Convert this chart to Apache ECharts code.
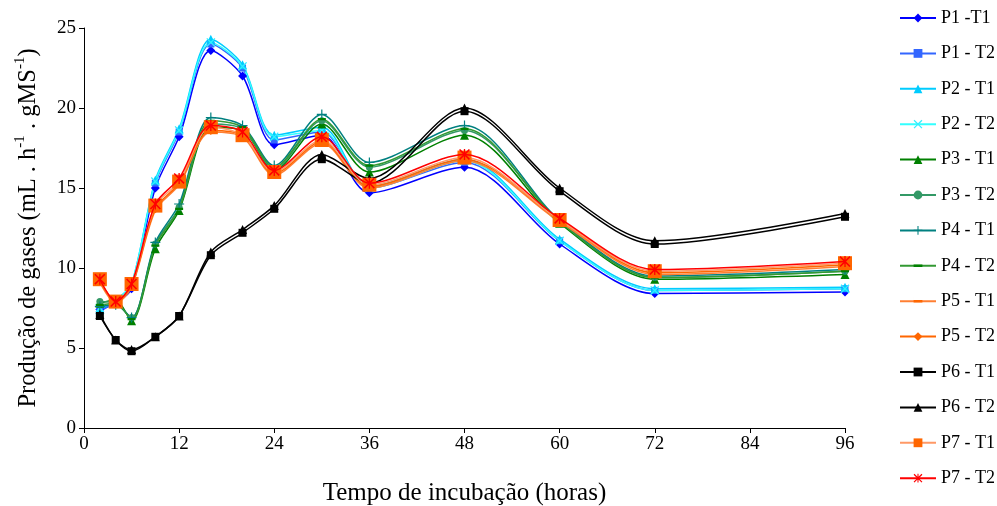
<!DOCTYPE html>
<html><head><meta charset="utf-8">
<script src="https://cdn.jsdelivr.net/npm/echarts@6/dist/echarts.min.js"></script>
<style>html,body{margin:0;padding:0;background:#fff}#c{width:997px;height:506px}</style>
</head><body><div id="c"></div>
<script>
const hours = [2,4,6,9,12,16,20,24,30,36,48,60,72,96];
const xTicks = [0,12,24,36,48,60,72,84,96];
const yTicks = [0,5,10,15,20,25];
const names = ['P1 -T1','P1 - T2','P2 - T1','P2 - T2','P3 - T1','P3 - T2','P4 - T1','P4 - T2','P5 - T1','P5 - T2','P6 - T1','P6 - T2','P7 - T1','P7 - T2'];
const p1t1 = [7.4,7.8,8.7,15.0,18.2,23.6,22.0,17.7,18.3,14.7,16.3,11.5,8.4,8.5];
const p1t2 = [7.3,7.9,8.9,15.3,18.5,24.0,22.5,18.0,18.5,15.0,16.6,11.7,8.6,8.7];
const p2t1 = [7.4,8.0,9.0,15.5,18.7,24.3,22.7,18.3,18.8,15.1,16.8,11.8,8.7,8.8];
const p2t2 = [7.5,8.0,9.0,15.4,18.6,24.1,22.6,18.2,18.6,15.0,16.7,11.7,8.6,8.7];
const p3t1 = [7.8,8.0,6.7,11.2,13.6,18.8,18.6,16.1,19.0,16.0,18.3,12.8,9.3,9.6];
const p3t2 = [7.9,7.8,6.9,11.5,13.8,19.0,18.7,16.2,19.2,16.3,18.6,12.9,9.4,9.8];
const p4t1 = [7.6,7.7,6.9,11.6,14.0,19.4,18.9,16.4,19.6,16.6,18.9,13.0,9.5,9.9];
const p4t2 = [7.7,7.8,6.8,11.4,13.7,19.2,18.8,16.3,19.3,16.4,18.7,12.9,9.4,9.8];
const p5t1 = [9.1,7.8,8.8,13.6,15.2,18.5,18.2,15.8,17.8,15.0,16.7,12.9,9.6,10.1];
const p5t2 = [9.2,7.9,8.9,13.7,15.3,18.6,18.3,15.9,17.9,15.1,16.8,13.0,9.7,10.2];
const p6t1 = [7.0,5.5,4.8,5.7,7.0,10.8,12.2,13.7,16.8,15.3,19.8,14.8,11.5,13.2];
const p6t2 = [7.1,5.5,4.9,5.7,7.0,11.0,12.4,13.9,17.1,15.6,20.0,15.0,11.7,13.4];
const p7t1 = [9.3,7.9,9.0,13.9,15.4,18.8,18.3,16.0,18.0,15.2,16.9,13.0,9.8,10.3];
const p7t2 = [9.3,7.9,9.0,14.0,15.6,18.9,18.5,16.1,18.2,15.3,17.1,13.1,9.9,10.4];
const seriesValues = [p1t1,p1t2,p2t1,p2t2,p3t1,p3t2,p4t1,p4t2,p5t1,p5t2,p6t1,p6t2,p7t1,p7t2];

const xSym = 'path://M1,0L5,4L9,0L10,1L6,5L10,9L9,10L5,6L1,10L0,9L4,5L0,1Z';
const plusSym = 'path://M4.4,0H5.6V4.4H10V5.6H5.6V10H4.4V5.6H0V4.4H4.4Z';
const starSym = 'path://M1,0L5,4L9,0L10,1L6,5L10,9L9,10L5,6L1,10L0,9L4,5L0,1Z M4.4,0H5.6V10H4.4Z';
const dashSym = 'path://M0,0H0.01V10H0Z M0,3.6H10V6.4H0Z';
const styles = [
  {line:'#0000FF', mark:'#0000FF', sym:'diamond', size:9},
  {line:'#3366FF', mark:'#3366FF', sym:'rect', size:7},
  {line:'#00CCFF', mark:'#00CCFF', sym:'triangle', size:9},
  {line:'#33FFFF', mark:'#33EEFF', sym:xSym, size:9},
  {line:'#008000', mark:'#008000', sym:'triangle', size:9},
  {line:'#339966', mark:'#339966', sym:'circle', size:7},
  {line:'#008080', mark:'#008080', sym:plusSym, size:10},
  {line:'#339933', mark:'#008000', sym:dashSym, size:8},
  {line:'#FF7F33', mark:'#FF6600', sym:dashSym, size:8},
  {line:'#FF6600', mark:'#FF6600', sym:'diamond', size:9},
  {line:'#000000', mark:'#000000', sym:'rect', size:8},
  {line:'#000000', mark:'#000000', sym:'triangle', size:9},
  {line:'#FF9966', mark:'#FF6600', sym:'rect', size:14},
  {line:'#FF0000', mark:'#FF0000', sym:starSym, size:11}
];

const chart = echarts.init(document.getElementById('c'), null, {renderer:'canvas'});
const font = '"Liberation Serif","Times New Roman",serif';
chart.setOption({
  animation:false,
  backgroundColor:'#fff',
  textStyle:{fontFamily:font},
  grid:{left:84, right:152, top:28, bottom:78, containLabel:false, outerBoundsMode:'none'},
  legend:{
    orient:'vertical', left:899, top:9, padding:0, itemWidth:36, itemHeight:11, itemGap:17.4,
    textStyle:{fontFamily:font, fontSize:18, color:'#000'},
    data:names
  },
  xAxis:{
    type:'value', min:0, max:96, interval:12,
    name:'Tempo de incubação (horas)', nameLocation:'middle', nameGap:53,
    nameTextStyle:{fontFamily:font, fontSize:25, color:'#000'},
    axisLine:{lineStyle:{color:'#000', width:1}},
    axisTick:{show:true, length:5, lineStyle:{color:'#000'}},
    axisLabel:{color:'#000', fontSize:19, fontFamily:font, margin:7},
    splitLine:{show:false}
  },
  yAxis:{
    type:'value', min:0, max:25, interval:5,
    name:'{a|Produção de gases (mL . h}{s|-1}{a| . gMS}{s|-1}{a|)}',
    nameLocation:'middle', nameGap:43, nameRotate:90,
    nameTextStyle:{fontFamily:font, fontSize:24.5, color:'#000',
      rich:{a:{fontFamily:font, fontSize:24.5, color:'#000', lineHeight:28, verticalAlign:'bottom'},
            s:{fontFamily:font, fontSize:15, color:'#000', lineHeight:28, verticalAlign:'top'}}},
    axisLine:{show:true, lineStyle:{color:'#000', width:1}},
    axisTick:{show:true, length:5, lineStyle:{color:'#000'}},
    axisLabel:{color:'#000', fontSize:19, fontFamily:font, margin:8},
    splitLine:{show:false}
  },
  series: names.map((n,i)=>({
    name:n, type:'line', smooth:0.3,
    data: hours.map((h,j)=>[h, seriesValues[i][j]]),
    symbol: styles[i].sym, symbolSize: styles[i].size, showSymbol:true,
    lineStyle:{color:styles[i].line, width:1.5},
    itemStyle:{color:styles[i].mark, borderWidth:0},
    z: i===12 ? 3 : (i===13 ? 4 : 2)
  }))
});
</script></body></html>
